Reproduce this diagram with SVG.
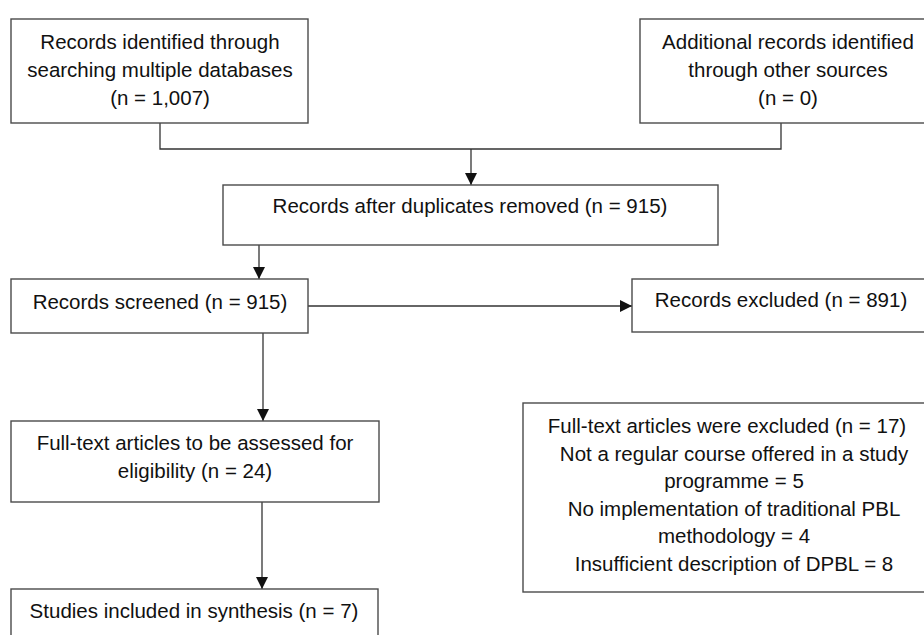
<svg xmlns="http://www.w3.org/2000/svg" width="924" height="635" viewBox="0 0 924 635">
<defs>
<style>
.box{fill:#fff;stroke:#4a4a4a;stroke-width:1.4}
.con{fill:none;stroke:#333;stroke-width:1.3}
text{font-family:"Liberation Sans",Arial,sans-serif;font-size:20.5px;fill:#111;text-anchor:middle}
</style>
<marker id="arr" markerUnits="userSpaceOnUse" markerWidth="12" markerHeight="12" refX="12" refY="6" orient="auto">
<path d="M0,0 L12,6 L0,12 z" fill="#111"/>
</marker>
</defs>
<rect width="924" height="635" fill="#fff"/>
<g id="connectors">
<path class="con" d="M160 123 V149 H781 V123"/>
<path class="con" d="M471 149 V185" marker-end="url(#arr)"/>
<path class="con" d="M259 245 V279" marker-end="url(#arr)"/>
<path class="con" d="M308 306 H632" marker-end="url(#arr)"/>
<path class="con" d="M263 333 V421" marker-end="url(#arr)"/>
<path class="con" d="M262 502 V589" marker-end="url(#arr)"/>
</g>
<g id="identified">
<rect class="box" x="11" y="19" width="297" height="104"/>
<text x="160" y="49">Records identified through</text>
<text x="160" y="77">searching multiple databases</text>
<text x="160" y="105">(n = 1,007)</text>
</g>
<g id="additional">
<rect class="box" x="640" y="19" width="300" height="104"/>
<text x="788" y="49">Additional records identified</text>
<text x="788" y="77">through other sources</text>
<text x="788" y="105">(n = 0)</text>
</g>
<g id="duplicates">
<rect class="box" x="223" y="185" width="495" height="60"/>
<text x="470" y="213">Records after duplicates removed (n = 915)</text>
</g>
<g id="screened">
<rect class="box" x="11" y="279" width="297" height="54"/>
<text x="160" y="309">Records screened (n = 915)</text>
</g>
<g id="excluded">
<rect class="box" x="632" y="279" width="310" height="53"/>
<text x="781" y="307">Records excluded (n = 891)</text>
</g>
<g id="fulltext">
<rect class="box" x="11" y="421" width="368" height="81"/>
<text x="195" y="450">Full-text articles to be assessed for</text>
<text x="195" y="478">eligibility (n = 24)</text>
</g>
<g id="included">
<rect class="box" x="11" y="589" width="367" height="60"/>
<text x="194" y="618">Studies included in synthesis (n = 7)</text>
</g>
<g id="fulltext-excluded">
<rect class="box" x="523" y="403" width="420" height="189"/>
<text x="727" y="433">Full-text articles were excluded (n = 17)</text>
<text x="734" y="461">Not a regular course offered in a study</text>
<text x="734" y="488">programme = 5</text>
<text x="734" y="516">No implementation of traditional PBL</text>
<text x="734" y="543">methodology = 4</text>
<text x="734" y="571">Insufficient description of DPBL = 8</text>
</g>
</svg>
